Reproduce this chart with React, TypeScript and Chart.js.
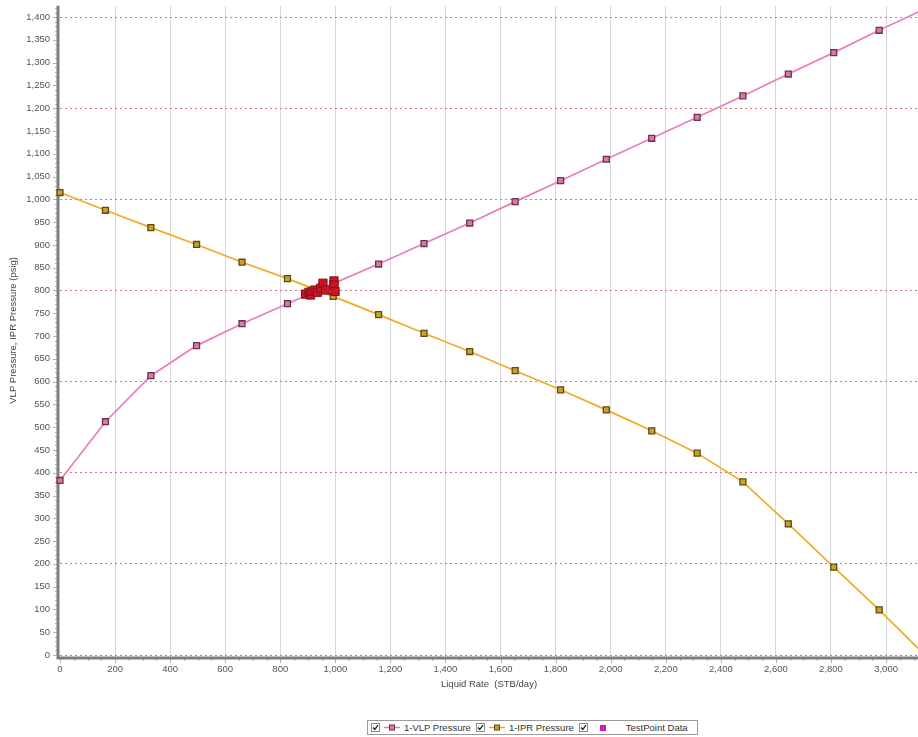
import React, { useEffect, useRef } from "react";
import { Chart, registerables } from "chart.js";

Chart.register(...registerables);

// ---- data ----
const liquidRate = [0, 165, 330, 496, 661, 826, 992, 1157, 1322, 1488, 1653, 1818, 1984, 2149, 2314, 2480, 2645, 2810, 2975, 3141];
const vlpPressure = [383, 512, 613, 679, 727, 771, 815, 858, 903, 948, 995, 1041, 1088, 1134, 1180, 1227, 1275, 1322, 1371, 1418];
const iprPressure = [1015, 976, 938, 901, 862, 826, 787, 747, 706, 666, 624, 582, 538, 492, 443, 380, 288, 193, 99, 0];
const testRate = [892, 904, 910, 916, 926, 935, 947, 955, 965, 995, 995, 999];
const testPressure = [792, 796, 790, 798, 801, 796, 805, 816, 801, 821, 812, 798];

const seriesNames = ["1-VLP Pressure", "1-IPR Pressure", "TestPoint Data"];
const xTitle = "Liquid Rate  (STB/day)";
const yTitle = "VLP Pressure, IPR Pressure (psig)";
const xMin = 0;
const xMax = 3116;
const yMin = 0;
const yMax = 1425;
const xStep = 200;
const yStep = 50;
const yGridStep = 200;

const FONT = "'Liberation Sans', Arial, sans-serif";

const axisPlugin = {
  id: "axisLines",
  beforeDatasetsDraw(chart: any) {
    const { ctx, chartArea: a, scales } = chart;
    const xs = scales.x;
    const ys = scales.y;
    const axX = a.left - 2;
    const axY = a.bottom + 3;
    ctx.save();
    ctx.strokeStyle = "#b4b4b4";
    ctx.lineWidth = 1;
    for (let v = yMin; v <= yMax; v += 10) {
      const py = Math.round(ys.getPixelForValue(v)) + 0.5;
      const len = v % yStep === 0 ? 5 : 3;
      ctx.beginPath();
      ctx.moveTo(axX - len, py);
      ctx.lineTo(axX, py);
      ctx.stroke();
    }
    for (let v = xMin; v <= xMax; v += 50) {
      const px = Math.round(xs.getPixelForValue(v)) + 0.5;
      const len = v % xStep === 0 ? 5 : 3;
      ctx.beginPath();
      ctx.moveTo(px, axY);
      ctx.lineTo(px, axY + len);
      ctx.stroke();
    }
    ctx.strokeStyle = "#7e7e7e";
    ctx.lineWidth = 3;
    ctx.beginPath();
    ctx.moveTo(axX, a.top);
    ctx.lineTo(axX, axY);
    ctx.lineTo(a.right, axY);
    ctx.stroke();
    ctx.restore();
  },
};

function CheckBox() {
  return (
    <svg width="9" height="9" style={{ display: "block", flex: "none" }}>
      <rect x="0.5" y="0.5" width="8" height="8" fill="#fff" stroke="#8a8a8a" />
      <path d="M2 4.5 L3.8 6.5 L7 2.2" fill="none" stroke="#222" strokeWidth="1.3" />
    </svg>
  );
}

function LineIcon({ line, fill, stroke }: { line: string; fill: string; stroke: string }) {
  return (
    <svg width="16" height="9" style={{ display: "block", flex: "none" }}>
      <line x1="0" y1="4.5" x2="16" y2="4.5" stroke={line} strokeWidth="1.5" />
      <rect x="5.5" y="2" width="5" height="5" fill={fill} stroke={stroke} strokeWidth="1" />
    </svg>
  );
}

export default function App() {
  const canvasRef = useRef<HTMLCanvasElement | null>(null);

  useEffect(() => {
    const canvas = canvasRef.current;
    if (!canvas) return;
    const chart = new Chart(canvas, {
      type: "line",
      data: {
        datasets: [
          {
            label: seriesNames[2],
            data: testRate.map((r, i) => ({ x: r, y: testPressure[i] })),
            showLine: false,
            pointStyle: "rect",
            pointRadius: 5.8,
            pointBackgroundColor: "#cc1424",
            pointBorderColor: "#86101a",
            pointBorderWidth: 1,
            order: 0,
            clip: false,
          },
          {
            label: seriesNames[0],
            data: liquidRate.map((r, i) => ({ x: r, y: vlpPressure[i] })),
            borderColor: "#e97cbf",
            borderWidth: 1.7,
            tension: 0,
            pointStyle: "rect",
            pointRadius: 4.2,
            pointBackgroundColor: "#d77aa3",
            pointBorderColor: "#6f3050",
            pointBorderWidth: 1.3,
            order: 1,
            clip: false,
          },
          {
            label: seriesNames[1],
            data: liquidRate.map((r, i) => ({ x: r, y: iprPressure[i] })),
            borderColor: "#f2aa26",
            borderWidth: 1.7,
            tension: 0,
            pointStyle: "rect",
            pointRadius: 4.2,
            pointBackgroundColor: "#c9a22a",
            pointBorderColor: "#5e4a12",
            pointBorderWidth: 1.3,
            order: 2,
            clip: false,
          },
        ],
      },
      options: {
        responsive: false,
        maintainAspectRatio: false,
        animation: false,
        layout: { autoPadding: false, padding: { top: 0, right: 0, left: 0, bottom: 0 } },
        plugins: {
          legend: { display: false },
          tooltip: { enabled: false },
        },
        scales: {
          x: {
            type: "linear",
            min: xMin,
            max: xMax,
            afterBuildTicks: (s: any) => {
              s.ticks = s.ticks.filter((t: any) => t.value % xStep === 0);
            },
            afterFit: (s: any) => {
              s.height = 45;
            },
            ticks: {
              stepSize: xStep,
              includeBounds: false,
              autoSkip: false,
              maxRotation: 0,
              color: "#555",
              padding: 9,
              font: { family: FONT, size: 9.5 },
            },
            grid: {
              drawTicks: false,
              lineWidth: 1,
              color: (c: any) => (c.tick && c.tick.value > 0 ? "#d6d6d6" : "rgba(0,0,0,0)"),
            },
            border: { display: false },
            title: {
              display: true,
              text: xTitle,
              color: "#444",
              font: { family: FONT, size: 9.5 },
              padding: { top: 0, bottom: 10 },
            },
          },
          y: {
            type: "linear",
            min: yMin,
            max: yMax,
            afterBuildTicks: (s: any) => {
              s.ticks = s.ticks.filter((t: any) => t.value % yStep === 0);
            },
            afterFit: (s: any) => {
              s.width = 60;
            },
            ticks: {
              stepSize: yStep,
              includeBounds: false,
              autoSkip: false,
              color: "#555",
              padding: 0,
              font: { family: FONT, size: 9.5 },
            },
            grid: {
              drawTicks: true,
              tickLength: 10,
              tickColor: "rgba(0,0,0,0)",
              lineWidth: 1,
              color: (c: any) =>
                c.tick && c.tick.value % yGridStep === 0 ? "#e0707e" : "rgba(0,0,0,0)",
            },
            border: { display: false, dash: [2, 3] },
            title: {
              display: true,
              text: yTitle,
              color: "#444",
              font: { family: FONT, size: 9.5 },
              padding: { top: 8, bottom: 0 },
            },
          },
        },
      },
      plugins: [axisPlugin],
    } as any);
    return () => chart.destroy();
  }, []);

  const gap = (w: number) => <span style={{ width: w, flex: "none" }} />;

  return (
    <div
      style={{
        position: "fixed",
        left: 0,
        top: 0,
        width: 918,
        height: 737,
        background: "#fff",
        overflow: "hidden",
      }}
    >
      <canvas ref={canvasRef} width={918} height={700} style={{ display: "block" }} />
      <div
        style={{
          position: "absolute",
          left: 367,
          top: 720,
          width: 326,
          height: 13,
          border: "1px solid #9a9a9a",
          display: "flex",
          alignItems: "center",
          fontFamily: FONT,
          fontSize: 9.5,
          color: "#333",
          whiteSpace: "nowrap",
          paddingLeft: 3,
          boxSizing: "content-box",
          background: "#fff",
        }}
      >
        <CheckBox />
        {gap(4)}
        <LineIcon line="#e97cbf" fill="#d77aa3" stroke="#6f3050" />
        {gap(4)}
        <span>{seriesNames[0]}</span>
        {gap(5)}
        <CheckBox />
        {gap(4)}
        <LineIcon line="#f2aa26" fill="#c9a22a" stroke="#5e4a12" />
        {gap(4)}
        <span>{seriesNames[1]}</span>
        {gap(5)}
        <CheckBox />
        {gap(12)}
        <span style={{ width: 6, height: 6, background: "#c01fc8", display: "block", flex: "none" }} />
        {gap(20)}
        <span>{seriesNames[2]}</span>
      </div>
    </div>
  );
}
